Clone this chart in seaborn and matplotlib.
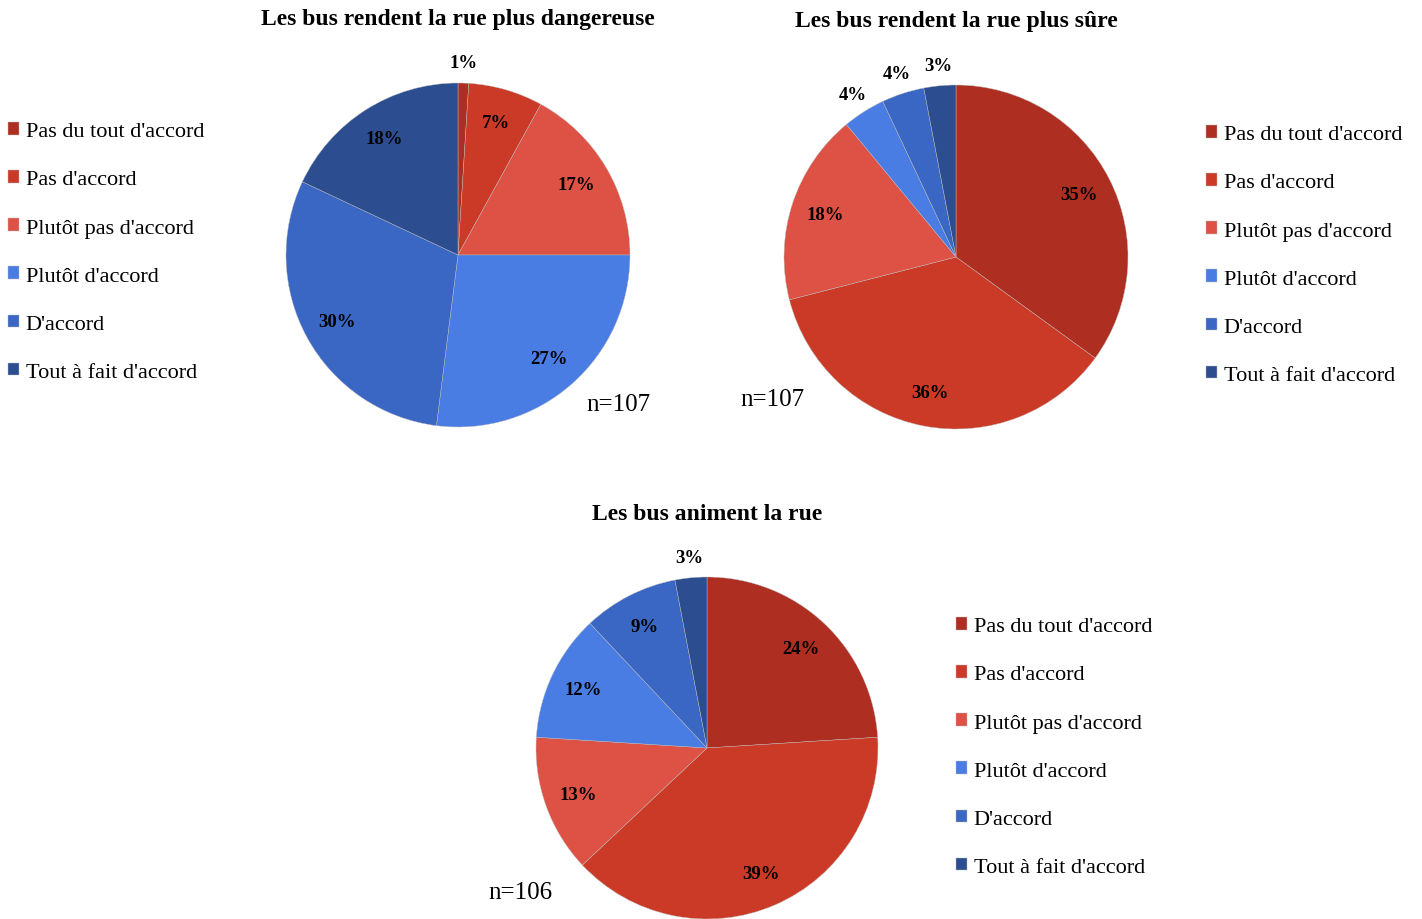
import numpy as np
import matplotlib
matplotlib.use("Agg")
import matplotlib.pyplot as plt
import seaborn as sns

# Données
categories = ["Pas du tout d'accord", "Pas d'accord", "Plutôt pas d'accord",
              "Plutôt d'accord", "D'accord", "Tout à fait d'accord"]
dangereuse = [1, 7, 17, 27, 30, 18]
sure = [35, 36, 18, 4, 4, 3]
anime = [24, 39, 13, 12, 9, 3]
titres = ["Les bus rendent la rue plus dangereuse",
          "Les bus rendent la rue plus sûre",
          "Les bus animent la rue"]
effectifs = ["n=107", "n=107", "n=106"]

couleurs = sns.color_palette(["#AE2F21", "#CB3A27", "#DE5245",
                              "#4A7DE3", "#3A66C4", "#2C4E90"])

sns.set_theme(style="white")
plt.rcParams['font.family'] = ['Liberation Serif', 'DejaVu Serif']
plt.rcParams['text.color'] = 'black'

W, H = 1422, 920
fig = plt.figure(figsize=(W / 100, H / 100), dpi=100)

# positions en pixels : centre du camembert, rayon, légende, titre, n
pies = [
    dict(vals=dangereuse, cx=458, cy=256, r=172, leg=(8, 253), title_y=20, n=(618, 405)),
    dict(vals=sure, cx=956, cy=258, r=172, leg=(1206, 256), title_y=22, n=(772, 400)),
    dict(vals=anime, cx=707, cy=749, r=171, leg=(956, 748), title_y=515, n=(520, 893)),
]

for p, titre, n in zip(pies, titres, effectifs):
    r = p["r"]
    ax = fig.add_axes([(p["cx"] - r) / W, (H - p["cy"] - r) / H, 2 * r / W, 2 * r / H])
    wedges, _ = ax.pie(p["vals"], colors=couleurs, startangle=90, counterclock=False,
                       wedgeprops=dict(linewidth=0.3, edgecolor="#bbbbbb"))
    ax.set_xlim(-1, 1)
    ax.set_ylim(-1, 1)
    ax.set_aspect("equal")
    ax.axis("off")

    # étiquettes de pourcentage
    for w, v in zip(wedges, p["vals"]):
        ang = np.deg2rad((w.theta1 + w.theta2) / 2)
        d = 1.12 if v < 5 else 0.8
        ax.text(d * np.cos(ang), d * np.sin(ang), f"{v}%", ha="center", va="center",
                fontsize=13.5, fontweight="bold", color="black")

    fig.text(p["cx"] / W, 1 - p["title_y"] / H, titre, ha="center", va="center",
             fontsize=17, fontweight="bold", color="black")
    fig.text(p["n"][0] / W, 1 - p["n"][1] / H, n, ha="center", va="center",
             fontsize=18, color="black")

    fig.legend(wedges, categories, loc="center left",
               bbox_to_anchor=(p["leg"][0] / W, 1 - p["leg"][1] / H),
               frameon=False, fontsize=16, handlelength=0.5, handleheight=0.5,
               handletextpad=0.3, labelspacing=1.3, borderpad=0, borderaxespad=0,
               labelcolor="black")

plt.savefig("out.png", dpi=100)
